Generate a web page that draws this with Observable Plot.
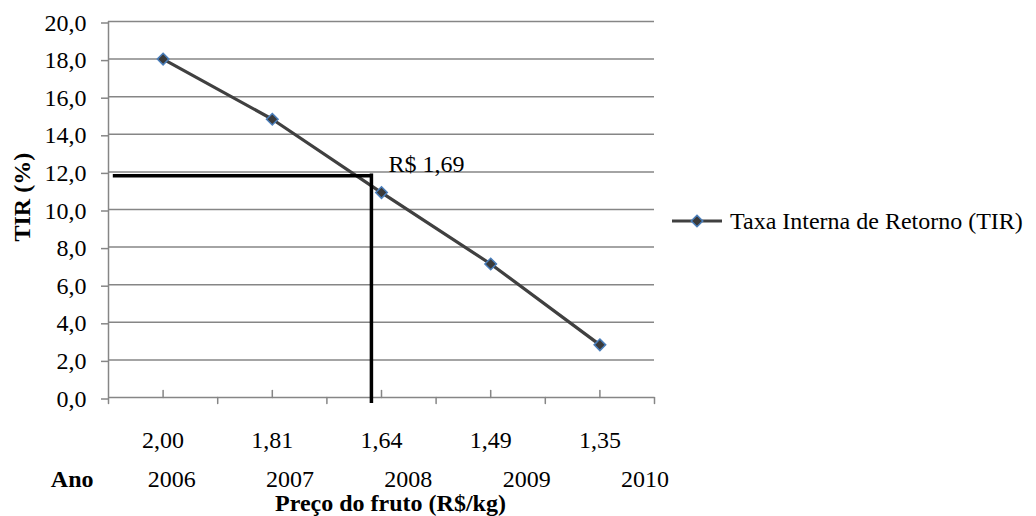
<!DOCTYPE html>
<html>
<head>
<meta charset="utf-8">
<script src="https://cdn.jsdelivr.net/npm/d3@7"></script>
<script src="https://cdn.jsdelivr.net/npm/@observablehq/plot@0.6"></script>
<style>
  html, body { margin: 0; padding: 0; background: #fff; }
  #chart svg { display: block; }
</style>
</head>
<body>
<div id="chart"></div>
<script>
// Fruit price categories (R$/kg) and the matching years
const prices = ["2,00", "1,81", "1,64", "1,49", "1,35"];
const priceValues = [2.00, 1.81, 1.64, 1.49, 1.35];
const years = ["2006", "2007", "2008", "2009", "2010"];

// Internal rate of return (%) for each price
const tir = [18.0, 14.8, 10.9, 7.1, 2.8];
const seriesName = "Taxa Interna de Retorno (TIR)";

// Break-even annotation
const refPrice = 1.69;
const refTir = 11.8;

// Y axis ticks
const yTicks = [0, 2, 4, 6, 8, 10, 12, 14, 16, 18, 20];

const FONT = "'Liberation Serif', 'Times New Roman', serif";
const GRID = "#868686";
const LINE = "#404040";
const MARKER_FILL = "#3a3a3a";
const MARKER_EDGE = "#4a7ebb";
const MARKER_R = 5.2;

const idx = (d, i) => i;
// price -> category position, linear across the first and last price
const priceToX = p => (priceValues[0] - p) / (priceValues[0] - priceValues[priceValues.length - 1]) * (priceValues.length - 1);
const refX = priceToX(refPrice);

// short stroke used for the category-axis ticks
const tickShape = { draw(ctx, l) { ctx.moveTo(0, 0); ctx.lineTo(0, -l); } };
const fmtComma = (v, n) => v.toFixed(n).replace(".", ",");

const chart = Plot.plot({
  width: 1036,
  height: 516,
  marginLeft: 108,
  marginRight: 382,
  marginTop: 21,
  marginBottom: 119,
  x: { domain: [-0.5, prices.length - 0.5], axis: null },
  y: { domain: [0, 20], axis: null },
  style: { fontFamily: FONT, fontSize: "24px", color: "#000", background: "#fff" },
  marks: [
    // horizontal gridlines
    Plot.ruleY(yTicks.filter(d => d > 0), { stroke: GRID, strokeWidth: 1.5 }),
    // axis lines
    Plot.ruleX([-0.5], { stroke: GRID, strokeWidth: 1.5 }),
    Plot.ruleY([0], { stroke: GRID, strokeWidth: 1.5 }),
    // y axis ticks and labels
    Plot.axisY(yTicks, {
      tickSize: 7, tickPadding: 15, stroke: GRID, strokeWidth: 1.5, fill: "#000",
      tickFormat: d => fmtComma(d, 1), fontSize: 24, label: null, dy: 1.5
    }),
    // category ticks: up at centers, down at boundaries
    Plot.vector(prices, { x: idx, y: 0, length: 7, rotate: 0, anchor: "start", shape: tickShape, stroke: GRID, strokeWidth: 1.5 }),
    Plot.vector(d3.range(prices.length + 1), { x: d => d - 0.5, y: 0, length: 6, rotate: 180, anchor: "start", shape: tickShape, stroke: GRID, strokeWidth: 1.5 }),
    // price labels
    Plot.text(prices, { x: idx, y: 0, text: d => d, dy: 50, lineAnchor: "bottom", fontSize: 24 }),
    // year labels
    Plot.text(years, { x: (d, i) => 0.08 + i * 1.083, y: 0, text: d => d, dy: 89, lineAnchor: "bottom", fontSize: 24 }),
    Plot.text(["Ano"], { frameAnchor: "bottom-left", text: d => d, dx: -15, dy: 89, textAnchor: "end", lineAnchor: "bottom", fontWeight: "bold", fontSize: 24 }),
    // axis titles
    Plot.text(["Preço do fruto (R$/kg)"], { frameAnchor: "bottom", text: d => d, dx: 9, dy: 113, lineAnchor: "bottom", fontWeight: "bold", fontSize: 24 }),
    Plot.text(["TIR (%)"], { frameAnchor: "left", text: d => d, dx: -86, dy: 32, rotate: -90, fontWeight: "bold", fontSize: 24 }),
    // series line
    Plot.line(tir, { x: idx, y: d => d, stroke: LINE, strokeWidth: 3.2 }),
    // break-even guides
    Plot.ruleY([refTir], { x1: -0.44, x2: refX, stroke: "#000", strokeWidth: 3.5, strokeLinecap: "square" }),
    Plot.ruleX([refX], { y1: -0.22, y2: refTir, stroke: "#000", strokeWidth: 3.5, strokeLinecap: "square" }),
    Plot.text([refPrice], { x: refX, y: refTir, text: d => "R$ " + fmtComma(d, 2), textAnchor: "start", lineAnchor: "bottom", dx: 17, dy: -4, fontSize: 24 }),
    // markers
    Plot.dot(tir, { x: idx, y: d => d, symbol: "diamond2", r: MARKER_R, fill: MARKER_FILL, stroke: MARKER_EDGE, strokeWidth: 1.5 })
  ]
});

document.getElementById("chart").appendChild(chart);

// legend to the right of the plot area
const svg = d3.select(chart);
const lg = svg.append("g").attr("transform", "translate(672,221)");
lg.append("line").attr("x1", 0).attr("x2", 50).attr("y1", 0).attr("y2", 0)
  .attr("stroke", LINE).attr("stroke-width", 3.2);
lg.append("path").attr("transform", "translate(25,0)")
  .attr("d", d3.symbol(d3.symbolDiamond2, MARKER_R * MARKER_R * Math.PI)())
  .attr("fill", MARKER_FILL).attr("stroke", MARKER_EDGE).attr("stroke-width", 1.5);
lg.append("text").attr("x", 58).attr("y", 0).attr("dy", "0.32em")
  .attr("text-anchor", "start")
  .attr("font-family", FONT).attr("font-size", 24).attr("fill", "#000")
  .text(seriesName);
</script>
</body>
</html>
